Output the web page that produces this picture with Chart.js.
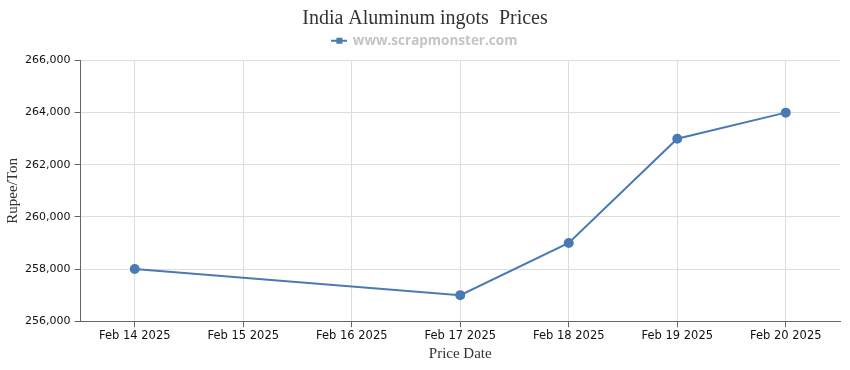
<!DOCTYPE html>
<html>
<head>
<meta charset="utf-8">
<script src="https://cdn.jsdelivr.net/npm/chart.js@4/dist/chart.umd.min.js"></script>
<style>
    html, body { margin: 0; padding: 0; background: #fff; }
    #wrap { width: 850px; height: 370px; }
</style>
</head>
<body>
<div id="wrap"><canvas id="chart"></canvas></div>
<script>
const dates = ['Feb 14 2025', 'Feb 15 2025', 'Feb 16 2025', 'Feb 17 2025', 'Feb 18 2025', 'Feb 19 2025', 'Feb 20 2025'];
const prices = [258000, null, null, 257000, 259000, 263000, 264000];
const yTicks = [256000, 258000, 260000, 262000, 264000, 266000];

const lineColor = '#4a7ab4';

// legend symbol: short line with a square in the middle
function legendSymbol() {
    const c = document.createElement('canvas');
    c.width = 16;
    c.height = 8;
    const g = c.getContext('2d');
    g.fillStyle = lineColor;
    g.fillRect(0, 3, 16, 2);
    g.fillRect(5, 1, 6, 6);
    return c;
}

// a bit of extra room under the legend
const legendGap = {
    id: 'legendGap',
    beforeInit(chart) {
        const fit = chart.legend.fit;
        chart.legend.fit = function () {
            fit.call(this);
            this.height += 3;
        };
    }
};

const ctx = document.getElementById('chart').getContext('2d');
new Chart(ctx, {
    type: 'line',
    data: {
        labels: dates,
        datasets: [{
            label: 'www.scrapmonster.com',
            data: prices,
            borderColor: lineColor,
            backgroundColor: lineColor,
            borderWidth: 2,
            pointRadius: 4,
            pointHoverRadius: 5,
            tension: 0,
            spanGaps: true
        }]
    },
    options: {
        responsive: true,
        maintainAspectRatio: false,
        animation: false,
        layout: { padding: { left: 10, right: 10, top: 0, bottom: 7 } },
        plugins: {
            title: {
                display: true,
                text: 'India Aluminum ingots  Prices',
                color: '#333',
                font: { family: '"Liberation Serif", serif', size: 20, weight: 'normal' },
                padding: { top: 7, bottom: -10 }
            },
            legend: {
                display: true,
                labels: {
                    color: '#c4c4c4',
                    font: { family: '"Open Sans", sans-serif', size: 13.5, weight: 'bold' },
                    usePointStyle: true,
                    padding: 13,
                    generateLabels: chart => chart.data.datasets.map((ds, i) => ({
                        text: ds.label,
                        pointStyle: legendSymbol(),
                        fontColor: '#c4c4c4',
                        datasetIndex: i
                    }))
                }
            },
            tooltip: { enabled: true }
        },
        scales: {
            x: {
                offset: true,
                grid: { color: '#dddddd', tickColor: '#666', tickLength: 6, offset: false },
                border: { color: '#666' },
                ticks: { color: '#111', font: { family: '"DejaVu Sans", sans-serif', size: 11.5 }, maxRotation: 0, padding: 2 },
                title: {
                    display: true,
                    text: 'Price Date',
                    color: '#333',
                    font: { family: '"Liberation Serif", serif', size: 15 },
                    padding: { top: 0, bottom: 0 }
                }
            },
            y: {
                min: yTicks[0],
                max: yTicks[yTicks.length - 1],
                afterBuildTicks: axis => { axis.ticks = yTicks.map(v => ({ value: v })); },
                grid: { color: '#dddddd', tickColor: '#666', tickLength: 6 },
                border: { color: '#666' },
                ticks: {
                    color: '#111',
                    font: { family: '"DejaVu Sans", sans-serif', size: 11 },
                    padding: 4,
                    callback: v => v.toLocaleString('en-US')
                },
                title: {
                    display: true,
                    text: 'Rupee/Ton',
                    color: '#333',
                    font: { family: '"Liberation Serif", serif', size: 15 },
                    padding: { top: -6, bottom: -1 }
                }
            }
        }
    },
    plugins: [legendGap]
});
</script>
</body>
</html>
